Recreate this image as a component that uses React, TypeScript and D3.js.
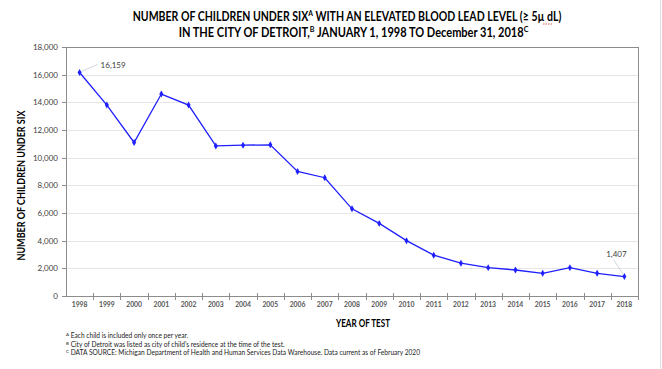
import React from 'react';
import * as d3 from 'd3';

const years = ['1998', '1999', '2000', '2001', '2002', '2003', '2004', '2005', '2006', '2007', '2008',
  '2009', '2010', '2011', '2012', '2013', '2014', '2015', '2016', '2017', '2018'];
const children = [16159, 13800, 11100, 14600, 13800, 10850, 10900, 10930, 9000, 8550, 6300,
  5250, 4000, 2950, 2370, 2050, 1880, 1640, 2050, 1640, 1407];
const yTicks = [0, 2000, 4000, 6000, 8000, 10000, 12000, 14000, 16000, 18000];
const footnotes = [
  ['A', 'Each child is included only once per year.'],
  ['B', 'City of Detroit was listed as city of child\u2019s residence at the time of the test.'],
  ['C', 'DATA SOURCE: Michigan Department of Health and Human Services Data Warehouse. Data current as of February 2020'],
];

const W = 662;
const H = 369;
const font = 'Lato, "Open Sans", sans-serif';

const App: React.FC = () => {
  // ========== plot area ==========
  const left = 66, right = 638, top = 47, bottom = 296;
  const lineColor = '#1f1fff';
  const gridColor = '#e6e6e6';
  const borderColor = '#8c8c8c';
  const labelColor = '#404040';

  const x = d3.scaleBand().domain(years).range([left, right]);
  const y = d3.scaleLinear().domain([0, 18000]).range([bottom, top]);
  const cx = (yr: string) => (x(yr) as number) + x.bandwidth() / 2;

  const line = d3.line<number>()
    .x((_, i) => cx(years[i]))
    .y(d => y(d));

  const fmt = d3.format(',');
  const first = children[0];
  const last = children[children.length - 1];

  return (
    <svg width={W} height={H} style={{ position: 'absolute', left: 0, top: 0, background: '#fff' }}
      fontFamily={font}>
      {/* page edge line on the right */}
      <line x1={660.5} x2={660.5} y1={0} y2={H} stroke="#e0e0e0" />

      {/* title, squeezed horizontally like the narrow original face */}
      <g transform="translate(347,21) scale(0.85,1)">
        <text x={0} y={0} textAnchor="middle" fontSize={12.4} fontWeight="bold" fill="#000">
          NUMBER OF CHILDREN UNDER SIX<tspan fontSize={8} dy={-5}>A</tspan>
          <tspan dy={5}> WITH AN ELEVATED BLOOD LEAD LEVEL (≥ 5µ dL)</tspan>
        </text>
      </g>
      <line x1={543} x2={553} y1={24} y2={24} stroke="#e03030" strokeWidth={0.8} strokeDasharray="1.5,1" />
      <g transform="translate(353.5,37) scale(0.89,1)">
        <text x={0} y={0} textAnchor="middle" fontSize={12.4} fontWeight="bold" fill="#000">
          IN THE CITY OF DETROIT,<tspan fontSize={8} dy={-5}>B</tspan>
          <tspan dy={5}> JANUARY 1, 1998 TO December 31, 2018</tspan>
          <tspan fontSize={8} dy={-5}>C</tspan>
        </text>
      </g>

      {/* gridlines */}
      {yTicks.filter(t => t > 0 && t < 18000).map(t => (
        <line key={t} x1={left} x2={right} y1={Math.round(y(t)) + 0.5} y2={Math.round(y(t)) + 0.5}
          stroke={gridColor} strokeWidth={1} />
      ))}

      {/* plot border */}
      <line x1={left} x2={right} y1={top + 0.5} y2={top + 0.5} stroke={borderColor} />
      <line x1={right + 0.5} x2={right + 0.5} y1={top} y2={bottom} stroke={borderColor} />
      <line x1={left + 0.5} x2={left + 0.5} y1={top} y2={bottom} stroke={borderColor} />
      <line x1={left} x2={right} y1={bottom + 0.5} y2={bottom + 0.5} stroke={borderColor} />

      {/* y ticks */}
      {yTicks.map(t => (
        <g key={t}>
          <line x1={left - 4} x2={left} y1={Math.round(y(t)) + 0.5} y2={Math.round(y(t)) + 0.5} stroke={borderColor} />
          <text x={left - 8} y={y(t) + 3} textAnchor="end" fontSize={8} fill={labelColor}>{fmt(t)}</text>
        </g>
      ))}

      {/* x ticks */}
      {years.map((yr, i) => (
        <g key={yr}>
          {i > 0 && (
            <line x1={Math.round(x(yr) as number) + 0.5} x2={Math.round(x(yr) as number) + 0.5}
              y1={bottom - 3} y2={bottom + 4} stroke={borderColor} />
          )}
          <text x={cx(yr)} y={307} textAnchor="middle" fontSize={6.8} fontWeight="bold" fill="#555">{yr}</text>
        </g>
      ))}
      <line x1={right + 0.5} x2={right + 0.5} y1={bottom} y2={bottom + 4} stroke={borderColor} />

      {/* axis titles */}
      <text transform={`translate(25,${(top + bottom) / 2 + 14}) rotate(-90)`} textAnchor="middle"
        fontSize={11} fontWeight="bold" fill="#000" textLength={150} lengthAdjust="spacingAndGlyphs">
        NUMBER OF CHILDREN UNDER SIX</text>
      <text x={336} y={327} fontSize={11} fontWeight="bold" fill="#000"
        textLength={54} lengthAdjust="spacingAndGlyphs">YEAR OF TEST</text>

      {/* series */}
      <path d={line(children) ?? ''} fill="none" stroke={lineColor} strokeWidth={1.3} />
      {children.map((v, i) => (
        <path key={i} d={d3.symbol(d3.symbolDiamond, 14)() ?? ''}
          transform={`translate(${cx(years[i])},${y(v)})`} fill={lineColor} />
      ))}

      {/* data labels */}
      <line x1={cx(years[0]) + 2} y1={y(first) - 1} x2={cx(years[0]) + 18} y2={y(first) - 8}
        stroke="#c8c8d8" strokeWidth={0.8} />
      <text x={cx(years[0]) + 21} y={y(first) - 4} fontSize={8} fill={labelColor}>{fmt(first)}</text>
      <line x1={cx(years[20]) - 1} y1={y(last) - 2} x2={cx(years[20]) - 11} y2={y(last) - 17}
        stroke="#c8c8d8" strokeWidth={0.8} />
      <text x={cx(years[20]) - 8} y={y(last) - 20} textAnchor="middle" fontSize={8} fill={labelColor}>{fmt(last)}</text>

      {/* footnotes */}
      {footnotes.map(([mark, txt], i) => (
        <text key={mark} x={66} y={338 + i * 8.5} fontSize={6.6} fill="#222">
          <tspan fontSize={4.5} dy={-2}>{mark}</tspan>
          <tspan dy={2}> {txt}</tspan>
        </text>
      ))}
    </svg>
  );
};

export default App;
